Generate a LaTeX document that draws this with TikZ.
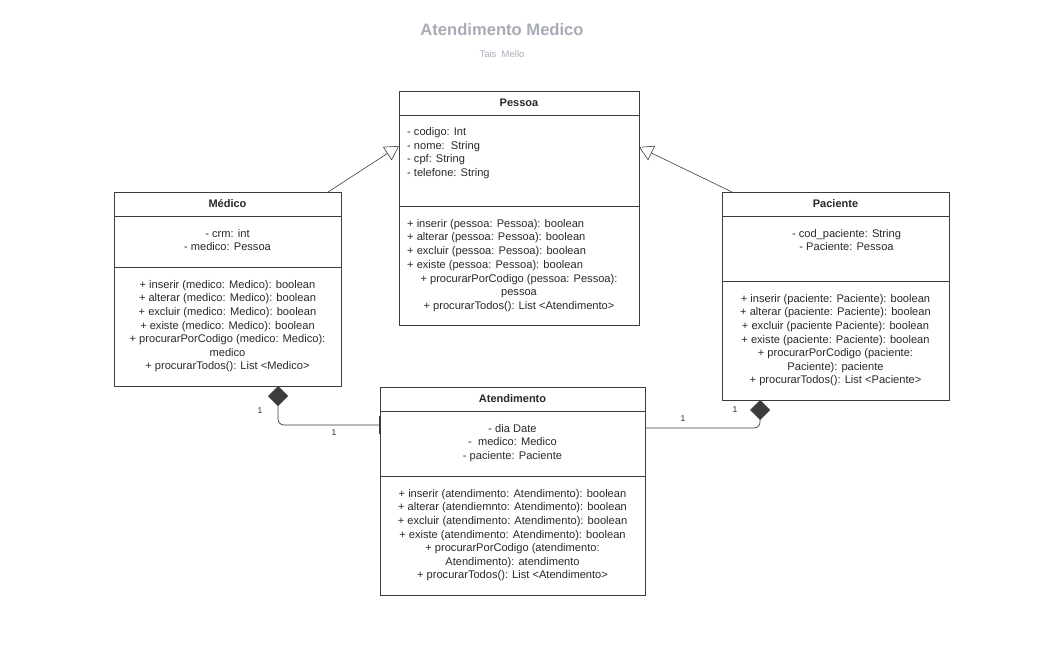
\documentclass[tikz,border=0pt]{standalone}
\usepackage{fontspec}
\setmainfont{Liberation Sans}
\usepackage{xcolor}
\usetikzlibrary{positioning,arrows.meta}

\definecolor{titlegray}{RGB}{168,171,182}
\definecolor{linegray}{RGB}{60,60,60}
\definecolor{textgray}{RGB}{40,40,40}

\tikzset{
  box/.style={draw=linegray, line width=0.9pt, rectangle, inner sep=0pt, outer sep=0pt},
  hdr/.style={box, minimum height=24pt, font=\fontsize{11}{12}\selectfont\bfseries, text=textgray},
  txt/.style={inner sep=0pt, anchor=north, text=textgray, font=\fontsize{11.1}{13.6}\selectfont},
  mult/.style={font=\fontsize{8.5}{10}\selectfont, text=textgray},
  heranca/.style={draw=linegray, line width=0.6pt, -{Triangle[open, length=14pt, width=16pt]}},
  composicao/.style={draw=linegray, line width=0.7pt, rounded corners=6pt, {Diamond[length=20pt, width=20pt, fill=linegray]}-{Bar[width=18pt]}},
  composicao2/.style={draw=linegray, line width=0.7pt, rounded corners=6pt, {Diamond[length=20pt, width=20pt, fill=linegray]}-}
}

\begin{document}
\begin{tikzpicture}[x=1pt, y=-1pt]
    \useasboundingbox (0,0) rectangle (1056,658);

    % Title
    \node[text=titlegray, font=\fontsize{16.6}{18}\selectfont\bfseries] (titulo) at (502,30) {Atendimento Medico};
    \node[text=titlegray, font=\fontsize{9.5}{10}\selectfont] (autor) at (502,54) {Tais\ \ Mello};

    % Pessoa
    \node[hdr, minimum width=240pt] (pessoa) at (519,103) {Pessoa};
    \node[box, minimum width=240pt, minimum height=91pt, below=0pt of pessoa] (pessoaAtr) {};
    \node[box, minimum width=240pt, minimum height=119pt, below=0pt of pessoaAtr] (pessoaMet) {};
    \node[txt, anchor=north west, align=left] (pessoaAtrTxt) at ([xshift=8pt, yshift=-12.5pt]pessoaAtr.north west) {- codigo: Int\\- nome:\ \ String\\- cpf: String\\- telefone: String};
    \node[txt, anchor=north west, align=left] (pessoaMetTxt) at ([xshift=8pt, yshift=-13pt]pessoaMet.north west) {+ inserir (pessoa: Pessoa): boolean\\+ alterar (pessoa: Pessoa): boolean\\+ excluir (pessoa: Pessoa): boolean\\+ existe (pessoa: Pessoa): boolean};
    \node[txt, align=center, below=3.4pt of pessoaMetTxt.south -| pessoaMet.center] (pessoaMetTxt2) {+ procurarPorCodigo (pessoa: Pessoa):\\pessoa\\+ procurarTodos(): List <Atendimento>};

    % Medico
    \node[hdr, minimum width=227pt] (medico) at (227.5,204) {Médico};
    \node[box, minimum width=227pt, minimum height=51pt, below=0pt of medico] (medicoAtr) {};
    \node[box, minimum width=227pt, minimum height=119pt, below=0pt of medicoAtr] (medicoMet) {};
    \node[txt, align=center] (medicoAtrTxt) at ([yshift=-13pt]medicoAtr.north) {- crm: int\\- medico: Pessoa};
    \node[txt, align=center] (medicoMetTxt) at ([yshift=-13pt]medicoMet.north) {+ inserir (medico: Medico): boolean\\+ alterar (medico: Medico): boolean\\+ excluir (medico: Medico): boolean\\+ existe (medico: Medico): boolean\\+ procurarPorCodigo (medico: Medico):\\medico\\+ procurarTodos(): List <Medico>};

    % Paciente
    \node[hdr, minimum width=227pt] (paciente) at (835.5,204) {Paciente};
    \node[box, minimum width=227pt, minimum height=65pt, below=0pt of paciente] (pacienteAtr) {};
    \node[box, minimum width=227pt, minimum height=119pt, below=0pt of pacienteAtr] (pacienteMet) {};
    \node[txt, align=center] (pacienteAtrTxt) at ([xshift=11pt, yshift=-13pt]pacienteAtr.north) {- cod\_paciente: String\\- Paciente: Pessoa};
    \node[txt, align=center] (pacienteMetTxt) at ([yshift=-13pt]pacienteMet.north) {+ inserir (paciente: Paciente): boolean\\+ alterar (paciente: Paciente): boolean\\+ excluir (paciente Paciente): boolean\\+ existe (paciente: Paciente): boolean\\+ procurarPorCodigo (paciente:\\Paciente): paciente\\+ procurarTodos(): List <Paciente>};

    % Atendimento
    \node[hdr, minimum width=265pt] (atend) at (512.5,399) {Atendimento};
    \node[box, minimum width=265pt, minimum height=65pt, below=0pt of atend] (atendAtr) {};
    \node[box, minimum width=265pt, minimum height=119pt, below=0pt of atendAtr] (atendMet) {};
    \node[txt, align=center] (atendAtrTxt) at ([yshift=-13pt]atendAtr.north) {- dia Date\\-\ \ medico: Medico\\- paciente: Paciente};
    \node[txt, align=center] (atendMetTxt) at ([yshift=-13pt]atendMet.north) {+ inserir (atendimento: Atendimento): boolean\\+ alterar (atendiemnto: Atendimento): boolean\\+ excluir (atendimento: Atendimento): boolean\\+ existe (atendimento: Atendimento): boolean\\+ procurarPorCodigo (atendimento:\\Atendimento): atendimento\\+ procurarTodos(): List <Atendimento>};

    % Arrows
    \draw[heranca] ([xshift=-13pt]medico.north east) -- ([yshift=-31pt]pessoaAtr.north west);
    \draw[heranca] ([xshift=10pt]paciente.north west) -- ([yshift=-32pt]pessoaAtr.north east);
    \draw[composicao] ([xshift=50.5pt]medicoMet.south) |- ([yshift=-14pt]atendAtr.north west);
    \draw[composicao2] ([xshift=-75.5pt]pacienteMet.south) |- ([yshift=-17pt]atendAtr.north east);

    % Multiplicities
    \node[mult] (m1) at (260,411) {1};
    \node[mult] (m2) at (334,433) {1};
    \node[mult] (m3) at (735,410) {1};
    \node[mult] (m4) at (683,419) {1};
\end{tikzpicture}
\end{document}
